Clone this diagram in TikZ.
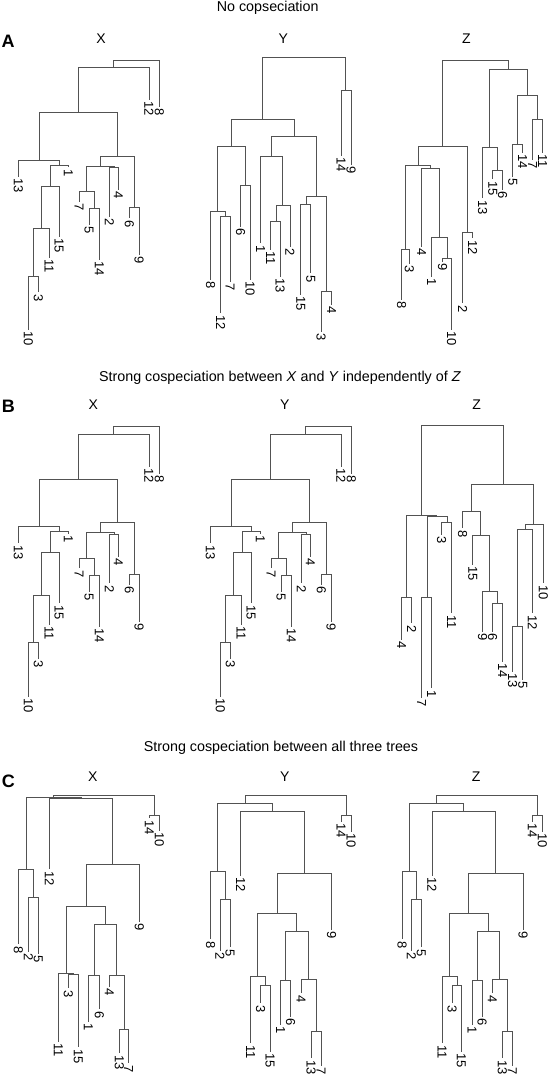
\documentclass[tikz,border=0pt]{standalone}
\usepackage{fontspec}
\setmainfont{Liberation Sans}
\tikzset{
  br/.style={draw=black!68, line width=0.8pt},
  lbl/.style={rotate=-90, anchor=west, inner sep=1.5pt, font=\fontsize{13}{13}\selectfont},
  ttl/.style={font=\fontsize{14.3}{15}\selectfont, inner sep=0pt},
  tname/.style={font=\fontsize{14}{15}\selectfont, inner sep=0pt},
  plet/.style={font=\bfseries\fontsize{18}{19}\selectfont, inner sep=0pt}
}
\newcommand\dn[3]{\coordinate (#1) at (#2,#3);}
\newcommand\dl[4]{\coordinate (#1) at (#2,#3); \node[lbl] (#1t) at (#1) {#4};}
\newcommand\de[2]{\draw[br] (#1) -| (#2);}
\newcommand\treeX[1]{%
\dn{#1r}{136.3}{60}
\dn{#1n1}{113.3}{67.3}
\dl{#1L8}{159.3}{107}{8}
\dl{#1L12}{149}{100}{12}
\dn{#1n2}{78.3}{112.7}
\dn{#1n3}{39}{160}
\dn{#1n4}{117.3}{156}
\dl{#1L13}{18.3}{176.7}{13}
\dn{#1n5}{59}{165}
\dl{#1L1}{68.3}{167.3}{1}
\dn{#1n6}{50}{186}
\dl{#1L15}{59}{236.7}{15}
\dn{#1n7}{41}{228.3}
\dl{#1L11}{49}{258}{11}
\dn{#1n8}{33.3}{276}
\dl{#1L10}{28.3}{330}{10}
\dl{#1L3}{38.3}{292.3}{3}
\dn{#1n9}{100.7}{166}
\dn{#1n10}{134.3}{207.3}
\dl{#1L6}{129.3}{218.3}{6}
\dl{#1L9}{139}{255}{9}
\dn{#1n11}{86}{191.7}
\dn{#1n12}{114.3}{167.3}
\dl{#1L2}{109.3}{216.7}{2}
\dl{#1L4}{118.3}{190}{4}
\dl{#1L7}{79}{201.7}{7}
\dn{#1n13}{94}{208.3}
\dl{#1L5}{89}{225}{5}
\dl{#1L14}{99.3}{260}{14}
\de{#1r}{#1n1}\de{#1r}{#1L8}
\de{#1n1}{#1n2}\de{#1n1}{#1L12}
\de{#1n2}{#1n3}\de{#1n2}{#1n4}
\de{#1n3}{#1L13}\de{#1n3}{#1n5}
\de{#1n5}{#1n6}\de{#1n5}{#1L1}
\de{#1n6}{#1n7}\de{#1n6}{#1L15}
\de{#1n7}{#1n8}\de{#1n7}{#1L11}
\de{#1n8}{#1L10}\de{#1n8}{#1L3}
\de{#1n4}{#1n9}\de{#1n4}{#1n10}
\de{#1n10}{#1L6}\de{#1n10}{#1L9}
\de{#1n9}{#1n11}\de{#1n9}{#1n12}
\de{#1n12}{#1L2}\de{#1n12}{#1L4}
\de{#1n11}{#1L7}\de{#1n11}{#1n13}
\de{#1n13}{#1L5}\de{#1n13}{#1L14}
}
\newcommand\treeC[1]{%
\dn{#1r}{295.5}{795}
\dn{#1t1}{346}{815}
\dl{#1L14}{341}{821.7}{14}
\dl{#1L10}{351}{831.7}{10}
\dn{#1t2}{245}{803.3}
\dn{#1t3}{217.7}{871.7}
\dl{#1L8}{210.7}{939.3}{8}
\dn{#1t4}{225}{899.3}
\dl{#1L2}{220}{950.7}{2}
\dl{#1L5}{230}{947.3}{5}
\dn{#1t5}{272.3}{811}
\dl{#1L12}{240.7}{876}{12}
\dn{#1t6}{304}{873.3}
\dl{#1L9}{331.7}{930}{9}
\dn{#1t7}{277.3}{913.3}
\dn{#1t8}{257.7}{976.7}
\dl{#1L11}{250.7}{1043.3}{11}
\dn{#1t9}{265.7}{985.7}
\dl{#1L3}{260.7}{1003.3}{3}
\dl{#1L15}{270}{1051.7}{15}
\dn{#1t10}{296.7}{931}
\dn{#1t11}{285.7}{980}
\dl{#1L1}{280.7}{1025}{1}
\dl{#1L6}{290.7}{1016.7}{6}
\dn{#1t12}{308.3}{979.3}
\dl{#1L4}{301}{993.3}{4}
\dn{#1t13}{316}{1031.7}
\dl{#1L13}{311}{1058.3}{13}
\dl{#1L7}{321}{1066}{7}
\de{#1r}{#1t2}\de{#1r}{#1t1}
\de{#1t1}{#1L14}\de{#1t1}{#1L10}
\de{#1t2}{#1t3}\de{#1t2}{#1t5}
\de{#1t3}{#1L8}\de{#1t3}{#1t4}
\de{#1t4}{#1L2}\de{#1t4}{#1L5}
\de{#1t5}{#1L12}\de{#1t5}{#1t6}
\de{#1t6}{#1t7}\de{#1t6}{#1L9}
\de{#1t7}{#1t8}\de{#1t7}{#1t10}
\de{#1t8}{#1L11}\de{#1t8}{#1t9}
\de{#1t9}{#1L3}\de{#1t9}{#1L15}
\de{#1t10}{#1t11}\de{#1t10}{#1t12}
\de{#1t11}{#1L1}\de{#1t11}{#1L6}
\de{#1t12}{#1L4}\de{#1t12}{#1t13}
\de{#1t13}{#1L13}\de{#1t13}{#1L7}
}
\begin{document}
\begin{tikzpicture}[x=1pt,y=-1pt]
\useasboundingbox (0,0) rectangle (549,1079);
% titles
\node[ttl] (titA) at (267.7,7.5) {No copseciation};
\node[ttl] (titB) at (280,378) {Strong cospeciation between \textit{X} and \textit{Y} independently of \textit{Z}};
\node[ttl] (titC) at (281,748) {Strong cospeciation between all three trees};
\node[plet] (pA) at (8,41.7) {A};
\node[plet] (pB) at (8.3,406) {B};
\node[plet] (pC) at (8.3,781.7) {C};
\node[tname] (aXn) at (101,38.3) {X};
\node[tname] (aYn) at (283.3,38.3) {Y};
\node[tname] (aZn) at (466.3,38.3) {Z};
\node[tname] (bXn) at (93.3,405) {X};
\node[tname] (bYn) at (284.7,405) {Y};
\node[tname] (bZn) at (476.7,405) {Z};
\node[tname] (cXn) at (92.7,776.7) {X};
\node[tname] (cYn) at (284.7,776.7) {Y};
\node[tname] (cZn) at (476.2,776.7) {Z};
% A-X
\treeX{ax}
% A-Y
\dn{ayr}{304.2}{57.3}
\dn{aym1}{345.7}{90.7}
\dl{ayL14}{341}{156}{14}
\dl{ayL9}{351}{165}{9}
\dn{aym2}{262.7}{119.3}
\dn{aym3}{231.7}{146.7}
\dn{aym4}{245}{185.7}
\dl{ayL6}{240.7}{226.7}{6}
\dl{ayL10}{250}{280}{10}
\dn{aym5}{217.7}{211.7}
\dl{ayL8}{210.7}{280}{8}
\dn{aym6}{225}{216.7}
\dl{ayL12}{220.7}{313.3}{12}
\dl{ayL7}{230}{281.7}{7}
\dn{aym7}{294}{136}
\dn{aym8}{271.7}{156}
\dl{ayL1}{260.7}{243.3}{1}
\dn{aym9}{282.7}{205.7}
\dl{ayL2}{290}{246.7}{2}
\dn{aym10}{276}{221.7}
\dl{ayL11}{270.7}{250}{11}
\dl{ayL13}{280}{276.7}{13}
\dn{aym11}{316}{196}
\dn{aym12}{306}{204}
\dl{ayL15}{300.7}{295}{15}
\dl{ayL5}{310.7}{273.3}{5}
\dn{aym13}{326}{291.7}
\dl{ayL3}{321}{331.7}{3}
\dl{ayL4}{331.7}{305}{4}
\de{ayr}{aym1}\de{ayr}{aym2}
\de{aym1}{ayL14}\de{aym1}{ayL9}
\de{aym2}{aym3}\de{aym2}{aym7}
\de{aym3}{aym4}\de{aym3}{aym5}
\de{aym4}{ayL6}\de{aym4}{ayL10}
\de{aym5}{ayL8}\de{aym5}{aym6}
\de{aym6}{ayL12}\de{aym6}{ayL7}
\de{aym7}{aym8}\de{aym7}{aym11}
\de{aym8}{ayL1}\de{aym8}{aym9}
\de{aym9}{aym10}\de{aym9}{ayL2}
\de{aym10}{ayL11}\de{aym10}{ayL13}
\de{aym11}{aym12}\de{aym11}{aym13}
\de{aym12}{ayL15}\de{aym12}{ayL5}
\de{aym13}{ayL3}\de{aym13}{ayL4}
% A-Z
\dn{azr}{475.7}{60}
\dn{azq1}{508.7}{69.3}
\dn{azq2}{527.3}{95.7}
\dn{azq3}{537.7}{119.3}
\dl{azL7}{532.7}{160}{7}
\dl{azL11}{542.7}{152.7}{11}
\dn{azq4}{517.3}{144.3}
\dl{azL5}{512.7}{176.7}{5}
\dl{azL14}{522.7}{152.7}{14}
\dn{azq5}{489.3}{147.7}
\dl{azL13}{482.7}{198.3}{13}
\dn{azq6}{497.3}{170.7}
\dl{azL15}{492.7}{179.3}{15}
\dl{azL6}{502.7}{190}{6}
\dn{azq7}{442.7}{146}
\dn{azq8}{418.6}{165}
\dn{azq9}{467.7}{232}
\dl{azL2}{462.7}{303.3}{2}
\dl{azL12}{472.7}{238.3}{12}
\dn{azq10}{405.5}{249.3}
\dl{azL8}{401.7}{300}{8}
\dl{azL3}{409.3}{264}{3}
\dn{azq11}{430.5}{168.3}
\dl{azL4}{421.7}{246.7}{4}
\dn{azq12}{439.3}{237.3}
\dl{azL1}{431.7}{276.7}{1}
\dn{azq13}{447.3}{258.3}
\dl{azL9}{442.7}{261.7}{9}
\dl{azL10}{451.7}{330}{10}
\de{azr}{azq1}\de{azr}{azq7}
\de{azq1}{azq2}\de{azq1}{azq5}
\de{azq2}{azq3}\de{azq2}{azq4}
\de{azq3}{azL7}\de{azq3}{azL11}
\de{azq4}{azL5}\de{azq4}{azL14}
\de{azq5}{azL13}\de{azq5}{azq6}
\de{azq6}{azL15}\de{azq6}{azL6}
\de{azq7}{azq8}\de{azq7}{azq9}
\de{azq9}{azL2}\de{azq9}{azL12}
\de{azq8}{azq10}\de{azq8}{azq11}
\de{azq10}{azL8}\de{azq10}{azL3}
\de{azq11}{azL4}\de{azq11}{azq12}
\de{azq12}{azL1}\de{azq12}{azq13}
\de{azq13}{azL9}\de{azq13}{azL10}
% B-X, B-Y
\begin{scope}[shift={(0,366.7)}]
\treeX{bx}
\end{scope}
\begin{scope}[shift={(192,366.7)}]
\treeX{by}
\end{scope}
% B-Z
\dn{bzr}{462.5}{425}
\dn{bzk1}{421.7}{515}
\dn{bzk3}{406.7}{597.3}
\dl{bzL4}{401.7}{640}{4}
\dl{bzL2}{411.7}{623.3}{2}
\dn{bzk4}{436.7}{516.5}
\dn{bzk5}{427.3}{597.3}
\dl{bzL7}{421.7}{698}{7}
\dl{bzL1}{431.7}{688.3}{1}
\dn{bzk6}{447.3}{522.3}
\dl{bzL3}{441.7}{535}{3}
\dl{bzL11}{451.7}{613.3}{11}
\dn{bzk2}{503.3}{484.3}
\dn{bzk7}{471}{511.7}
\dl{bzL8}{462.7}{528.3}{8}
\dn{bzk8}{480}{535.7}
\dl{bzL15}{472.7}{565}{15}
\dn{bzk9}{489}{591.7}
\dl{bzL9}{482.7}{631.7}{9}
\dn{bzk10}{497.3}{603.3}
\dl{bzL6}{492.7}{631.7}{6}
\dl{bzL14}{502.7}{661.7}{14}
\dn{bzk11}{533.3}{524}
\dn{bzk12}{525}{529.3}
\dl{bzL10}{543.3}{583.3}{10}
\dn{bzk13}{517.7}{626.7}
\dl{bzL12}{532.3}{613.3}{12}
\dl{bzL13}{512.7}{671.7}{13}
\dl{bzL5}{522.7}{680}{5}
\de{bzr}{bzk1}\de{bzr}{bzk2}
\de{bzk1}{bzk3}\de{bzk1}{bzk4}
\de{bzk3}{bzL4}\de{bzk3}{bzL2}
\de{bzk4}{bzk5}\de{bzk4}{bzk6}
\de{bzk5}{bzL7}\de{bzk5}{bzL1}
\de{bzk6}{bzL3}\de{bzk6}{bzL11}
\de{bzk2}{bzk7}\de{bzk2}{bzk11}
\de{bzk7}{bzL8}\de{bzk7}{bzk8}
\de{bzk8}{bzL15}\de{bzk8}{bzk9}
\de{bzk9}{bzL9}\de{bzk9}{bzk10}
\de{bzk10}{bzL6}\de{bzk10}{bzL14}
\de{bzk11}{bzk12}\de{bzk11}{bzL10}
\de{bzk12}{bzk13}\de{bzk12}{bzL12}
\de{bzk13}{bzL13}\de{bzk13}{bzL5}
% C-X
\dn{cxr}{104}{795.7}
\dn{cxs1}{154.3}{815.7}
\dl{cxL14}{149.3}{818.3}{14}
\dl{cxL10}{159.3}{831}{10}
\dn{cxs2}{53.3}{797.7}
\dn{cxs3}{26}{869.3}
\dl{cxL8}{18.3}{944.3}{8}
\dn{cxs4}{33.3}{897.3}
\dl{cxL2}{28.3}{951.7}{2}
\dl{cxL5}{38.3}{954}{5}
\dn{cxs5}{81}{798.3}
\dl{cxL12}{49.3}{869.3}{12}
\dn{cxs6}{112.7}{864}
\dl{cxL9}{139.3}{921.7}{9}
\dn{cxs7}{86}{906}
\dn{cxs8}{66.7}{973.3}
\dl{cxL11}{58.3}{1041.7}{11}
\dn{cxs9}{73.3}{974.3}
\dl{cxL3}{68.3}{988.3}{3}
\dl{cxL15}{78.3}{1047.3}{15}
\dn{cxs10}{105.3}{924}
\dn{cxs11}{94}{975}
\dl{cxL1}{88.3}{1021.7}{1}
\dl{cxL6}{99.3}{1009.3}{6}
\dn{cxs12}{116.7}{975}
\dl{cxL4}{109.3}{986.7}{4}
\dn{cxs13}{124}{1029.3}
\dl{cxL13}{119.3}{1053.3}{13}
\dl{cxL7}{128.7}{1063.3}{7}
\de{cxr}{cxs2}\de{cxr}{cxs1}
\de{cxs1}{cxL14}\de{cxs1}{cxL10}
\de{cxs2}{cxs3}\de{cxs2}{cxs5}
\de{cxs3}{cxL8}\de{cxs3}{cxs4}
\de{cxs4}{cxL2}\de{cxs4}{cxL5}
\de{cxs5}{cxL12}\de{cxs5}{cxs6}
\de{cxs6}{cxs7}\de{cxs6}{cxL9}
\de{cxs7}{cxs8}\de{cxs7}{cxs10}
\de{cxs8}{cxL11}\de{cxs8}{cxs9}
\de{cxs9}{cxL3}\de{cxs9}{cxL15}
\de{cxs10}{cxs11}\de{cxs10}{cxs12}
\de{cxs11}{cxL1}\de{cxs11}{cxL6}
\de{cxs12}{cxL4}\de{cxs12}{cxs13}
\de{cxs13}{cxL13}\de{cxs13}{cxL7}
% C-Y, C-Z
\treeC{cy}
\begin{scope}[shift={(191.3,0)}]
\treeC{cz}
\end{scope}
\end{tikzpicture}
\end{document}
